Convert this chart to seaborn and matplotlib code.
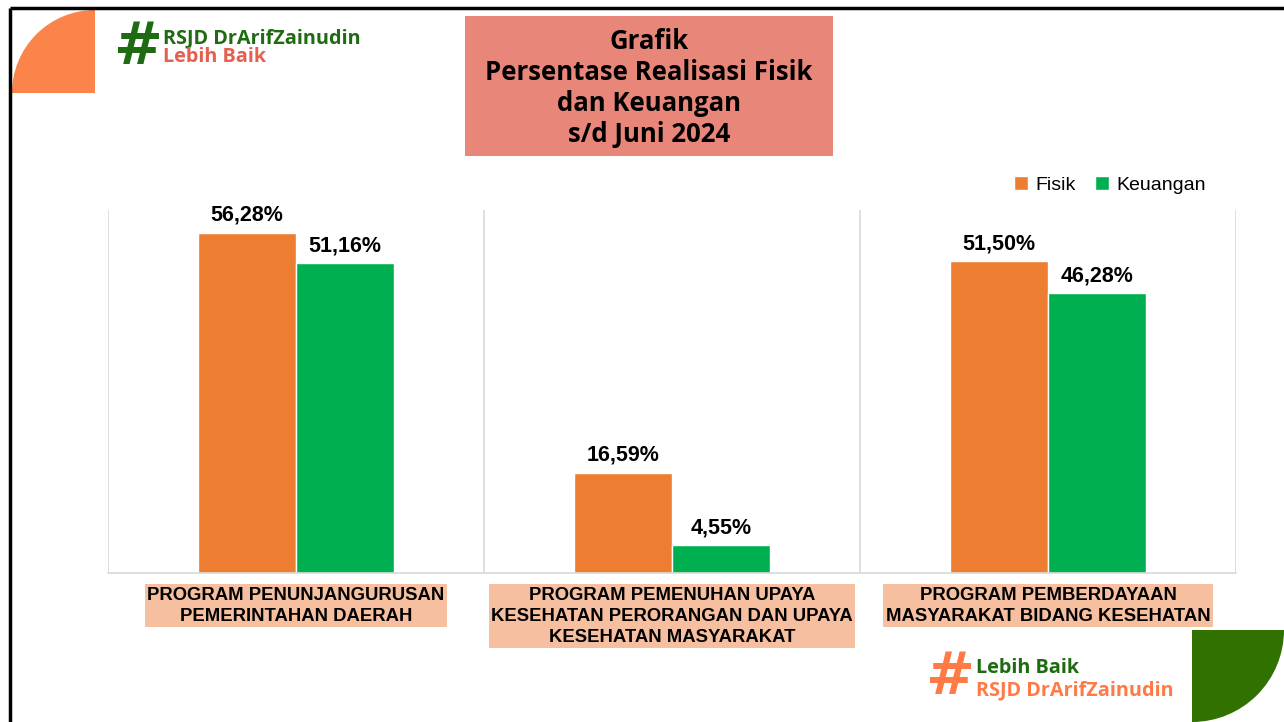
"""Persentase realisasi fisik dan keuangan s/d Juni 2024 (bar chart slide)."""

import matplotlib.pyplot as plt
import pandas as pd
import seaborn as sns
from matplotlib.patches import Rectangle, Wedge

programs = [
    "PROGRAM PENUNJANGURUSAN\nPEMERINTAHAN DAERAH",
    "PROGRAM PEMENUHAN UPAYA\nKESEHATAN PERORANGAN DAN UPAYA\nKESEHATAN MASYARAKAT",
    "PROGRAM PEMBERDAYAAN\nMASYARAKAT BIDANG KESEHATAN",
]
series_names = ["Fisik", "Keuangan"]
fisik = [56.28, 16.59, 51.50]
keuangan = [51.16, 4.55, 46.28]
series_colors = ["#ED7D31", "#00B050"]

title_lines = ["Grafik", "Persentase Realisasi Fisik", "dan Keuangan", "s/d Juni 2024"]

W, H = 1284, 722
LOGO_FONT = ["Open Sans", "DejaVu Sans"]

sns.set_theme(style="white")
plt.rcParams["font.family"] = ["Liberation Sans", "DejaVu Sans"]
plt.rcParams["text.color"] = "black"
plt.rcParams["xtick.color"] = "black"

df = pd.DataFrame(
    {
        "program": programs * 2,
        "seri": [series_names[0]] * 3 + [series_names[1]] * 3,
        "nilai": fisik + keuangan,
    }
)

fig = plt.figure(figsize=(W / 100, H / 100), dpi=100)
fig.patch.set_facecolor("white")

# decoration layer in pixel coordinates
bg = fig.add_axes([0, 0, 1, 1])
bg.set_xlim(0, W)
bg.set_ylim(H, 0)
bg.axis("off")

bg.add_patch(Wedge((95, 93), 83, 180, 270, facecolor="#FB844B", edgecolor="none"))
bg.add_patch(Wedge((1192, 630), 92, 0, 90, facecolor="#317100", edgecolor="none"))
bg.plot([10, W], [8, 8], color="black", lw=2.5, solid_capstyle="butt")
bg.plot([10, 10], [8, H], color="black", lw=2.5, solid_capstyle="butt")

# title box
bg.add_patch(Rectangle((465, 16), 368, 140, facecolor="#E8867A", edgecolor="none"))
bg.text(
    649, 88, "\n".join(title_lines),
    ha="center", va="center", fontsize=18.5, fontweight="bold",
    family=LOGO_FONT, linespacing=1.2, color="black",
)

# logos
bg.text(138, 47, "#", ha="center", va="center", fontsize=42, fontweight="bold",
        color="#1E6B12", family=["DejaVu Sans"])
bg.text(163, 38, "RSJD DrArifZainudin", ha="left", va="center", fontsize=14.3,
        fontweight="bold", color="#1E6B12", family=LOGO_FONT)
bg.text(163, 57, "Lebih Baik", ha="left", va="center", fontsize=14.3,
        fontweight="bold", color="#E5604F", family=LOGO_FONT)

bg.text(950, 678, "#", ha="center", va="center", fontsize=42, fontweight="bold",
        color="#FF7A45", family=["DejaVu Sans"])
bg.text(976, 668, "Lebih Baik", ha="left", va="center", fontsize=14.3,
        fontweight="bold", color="#1E6B12", family=LOGO_FONT)
bg.text(976, 690, "RSJD DrArifZainudin", ha="left", va="center", fontsize=14.3,
        fontweight="bold", color="#FF7A45", family=LOGO_FONT)

# main chart
ax = fig.add_axes([108 / W, 1 - 573 / H, 1128 / W, 363 / H])
ax.set_facecolor("none")
sns.barplot(
    data=df, x="program", y="nilai", hue="seri",
    palette=series_colors, width=0.52, saturation=1, ax=ax,
)
ax.set_xlim(-0.5, 2.5)
ax.set_ylim(0, 60)

for container in ax.containers:
    labels = [f"{bar.get_height():.2f}%".replace(".", ",") for bar in container]
    ax.bar_label(container, labels=labels, padding=5, fontsize=15.5,
                 fontweight="bold", color="black")

for xpos in [-0.5, 0.5, 1.5, 2.5]:
    ax.axvline(xpos, color="#D9D9D9", lw=1.2, zorder=0)

for side in ["top", "left", "right"]:
    ax.spines[side].set_visible(False)
ax.spines["bottom"].set_color("#D9D9D9")
ax.spines["bottom"].set_linewidth(1.2)
ax.set_yticks([])
ax.set_xlabel("")
ax.set_ylabel("")
ax.tick_params(axis="x", length=0, pad=10)
for label in ax.get_xticklabels():
    label.set_fontsize(13.3)
    label.set_fontweight("bold")
    label.set_linespacing(1.3)
    label.set_bbox(dict(facecolor="#F5BFA0", edgecolor="none", pad=1.8))

handles, _ = ax.get_legend_handles_labels()
ax.legend(
    handles, series_names,
    loc="center", bbox_to_anchor=(1110 / W, 1 - 185 / H), bbox_transform=fig.transFigure,
    ncol=2, frameon=False, fontsize=14, handlelength=0.7, handleheight=0.7,
    handletextpad=0.4, columnspacing=1.0,
)

fig.savefig("out.png", dpi=100)
